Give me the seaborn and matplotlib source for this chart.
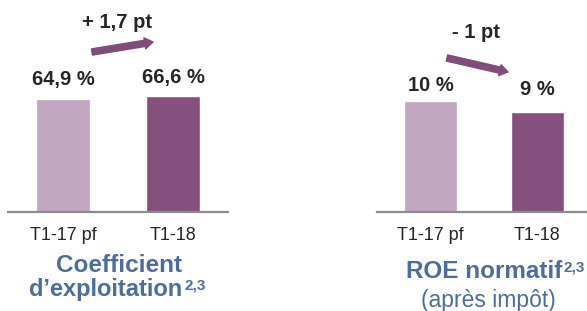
import matplotlib
matplotlib.use("Agg")
import matplotlib.pyplot as plt
import seaborn as sns
import pandas as pd

# data
periods = ["T1-17 pf", "T1-18"]
coef_values = [64.9, 66.6]
roe_values = [10, 9]
coef_labels = ["64,9 %", "66,6 %"]
roe_labels = ["10 %", "9 %"]
coef_delta = "+ 1,7 pt"
roe_delta = "- 1 pt"

light_col = "#c2a5bf"
dark_col = "#85507d"
arrow_col = "#804c79"
blue_col = "#4f6d9c"

sns.set_style("white")
plt.rcParams['font.family'] = ['Liberation Sans', 'DejaVu Sans']

W, H = 587, 311
fig = plt.figure(figsize=(W / 100, H / 100), dpi=100)


def px(x, y):
    # image pixel (top-left origin) -> figure fraction
    return x / W, 1 - y / H


def panel(left, width, ymax, values, labels, offsets):
    ax = fig.add_axes([left / W, (H - 212) / H, width / W, 192 / H])
    df = pd.DataFrame({"period": periods, "value": values})
    sns.barplot(data=df, x="period", y="value", hue="period",
                palette=[light_col, dark_col], width=0.49, legend=False,
                saturation=1, ax=ax)
    ax.set_xlim(-0.5, 1.5)
    ax.set_ylim(0, ymax)
    ax.set_xlabel("")
    ax.set_ylabel("")
    ax.set_yticks([])
    ax.tick_params(axis="x", length=0, pad=11, labelsize=13)
    for s in ["top", "left", "right"]:
        ax.spines[s].set_visible(False)
    ax.spines["bottom"].set_color("#8c8c8c")
    ax.spines["bottom"].set_linewidth(1.6)
    for i, (v, lab) in enumerate(zip(values, labels)):
        ax.annotate(lab, xy=(i, v), xytext=(0, offsets[i]),
                    textcoords="offset pixels", ha="center", va="baseline",
                    fontsize=14.5, fontweight="bold")
    return ax


ax1 = panel(8, 220, 192 / 1.741, coef_values, coef_labels, [14, 13])
ax2 = panel(377, 214, 192 / 11.1, roe_values, roe_labels, [10, 17])

# change arrows
for start, end in [((92, 52), (153, 42)), ((447, 58), (508, 72))]:
    fig.add_artist(matplotlib.patches.FancyArrowPatch(
        px(*start), px(*end), transform=fig.transFigure,
        arrowstyle="simple,head_width=0.8,head_length=0.6,tail_width=0.45",
        mutation_scale=10, color=arrow_col, shrinkA=0, shrinkB=0))

fig.text(*px(117, 22), coef_delta, ha="center", va="center",
         fontsize=14.5, fontweight="bold")
fig.text(*px(476, 33), roe_delta, ha="center", va="center",
         fontsize=14.5, fontweight="bold")

# panel titles
fig.text(*px(119, 272), "Coefficient", ha="center", va="baseline",
         fontsize=17.5, fontweight="bold", color=blue_col)
t1 = fig.text(*px(106, 296), "d\u2019exploitation", ha="center",
              va="baseline", fontsize=17, fontweight="bold", color=blue_col)
ax1.annotate("2,3", xy=(1, 1), xycoords=t1, xytext=(1, 0),
             textcoords="offset points", ha="left", va="top",
             fontsize=11, fontweight="bold", color=blue_col)

t2 = fig.text(*px(484, 278), "ROE normatif", ha="center", va="baseline",
              fontsize=17.5, fontweight="bold", color=blue_col)
ax2.annotate("2,3", xy=(1, 1), xycoords=t2, xytext=(1, 0),
             textcoords="offset points", ha="left", va="top",
             fontsize=11, fontweight="bold", color=blue_col, annotation_clip=False)
fig.text(*px(488, 301), "(apr\u00e8s imp\u00f4t)", ha="center", va="center",
         fontsize=16.5, color=blue_col)

fig.savefig("out.png", dpi=100)
